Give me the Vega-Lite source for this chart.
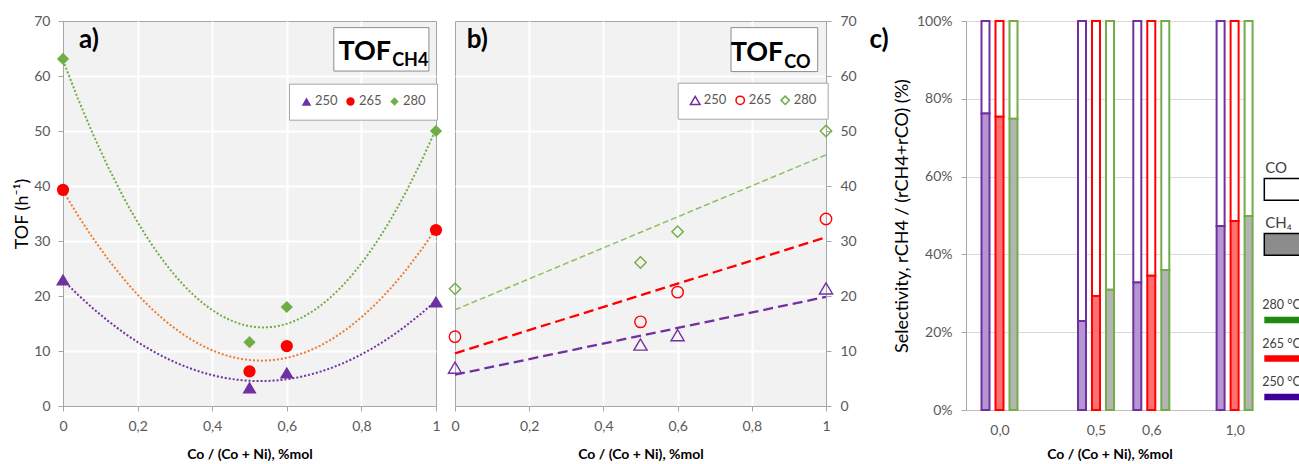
{
  "$schema": "https://vega.github.io/schema/vega-lite/v6.json",
  "padding": {"left": 13, "top": 13, "right": 0, "bottom": 0},
  "background": "white",
  "datasets": {
    "tof": [
      {"ratio": 0, "temp": "250", "tofCH4": 23.0, "tofCO": 7.0},
      {"ratio": 0.5, "temp": "250", "tofCH4": 3.4, "tofCO": 11.2},
      {"ratio": 0.6, "temp": "250", "tofCH4": 6.1, "tofCO": 12.9},
      {"ratio": 1, "temp": "250", "tofCH4": 19.0, "tofCO": 21.4},
      {"ratio": 0, "temp": "265", "tofCH4": 39.3, "tofCO": 12.6},
      {"ratio": 0.5, "temp": "265", "tofCH4": 6.3, "tofCO": 15.3},
      {"ratio": 0.6, "temp": "265", "tofCH4": 10.9, "tofCO": 20.7},
      {"ratio": 1, "temp": "265", "tofCH4": 32.0, "tofCO": 34.0},
      {"ratio": 0, "temp": "280", "tofCH4": 63.1, "tofCO": 21.3},
      {"ratio": 0.5, "temp": "280", "tofCH4": 11.6, "tofCO": 26.1},
      {"ratio": 0.6, "temp": "280", "tofCH4": 18.0, "tofCO": 31.7},
      {"ratio": 1, "temp": "280", "tofCH4": 50.0, "tofCO": 50.0}
    ],
    "sel": [
      {"ratio": 0, "temp": "250", "sel": 0.762},
      {"ratio": 0, "temp": "265", "sel": 0.754},
      {"ratio": 0, "temp": "280", "sel": 0.749},
      {"ratio": 0.5, "temp": "250", "sel": 0.229},
      {"ratio": 0.5, "temp": "265", "sel": 0.293},
      {"ratio": 0.5, "temp": "280", "sel": 0.309},
      {"ratio": 0.6, "temp": "250", "sel": 0.328},
      {"ratio": 0.6, "temp": "265", "sel": 0.345},
      {"ratio": 0.6, "temp": "280", "sel": 0.360},
      {"ratio": 1, "temp": "250", "sel": 0.473},
      {"ratio": 1, "temp": "265", "sel": 0.486},
      {"ratio": 1, "temp": "280", "sel": 0.499}
    ]
  },
  "spacing": 12,
  "resolve": {
    "scale": {"color": "independent", "shape": "independent", "fill": "independent"},
    "legend": {"color": "independent", "shape": "independent", "fill": "independent"}
  },
  "hconcat": [
    {
      "spacing": 19,
      "bounds": "flush",
      "resolve": {
        "scale": {"color": "independent", "shape": "independent"},
        "legend": {"color": "independent", "shape": "independent"}
      },
      "hconcat": [
        {
          "width": 373,
          "height": 385,
          "view": {"fill": "#f2f2f2", "stroke": "#a6a6a6"},
          "layer": [
            {
              "data": {"name": "tof"},
              "encoding": {
                "x": {
                  "field": "ratio", "type": "quantitative",
                  "scale": {"domain": [0, 1], "nice": false},
                  "axis": {
                    "title": "Co / (Co + Ni), %mol",
                    "values": [0, 0.2, 0.4, 0.6, 0.8, 1],
                    "labelExpr": "replace(format(datum.value, '~g'), '.', ',')",
                    "grid": true, "gridColor": "white", "gridWidth": 2,
                    "gridOpacity": {"condition": {"test": "datum.value <= 0 || datum.value >= 1", "value": 0}, "value": 1},
                    "labelPadding": 8, "titleFontSize": 14, "titleFontWeight": "bold", "titlePadding": 14
                  }
                },
                "y": {
                  "field": "tofCH4", "type": "quantitative",
                  "scale": {"domain": [0, 70], "nice": false},
                  "axis": {
                    "title": "TOF (h⁻¹)",
                    "values": [0, 10, 20, 30, 40, 50, 60, 70],
                    "grid": true, "gridColor": "white", "gridWidth": 2,
                    "gridOpacity": {"condition": {"test": "datum.value <= 0 || datum.value >= 70", "value": 0}, "value": 1},
                    "labelPadding": 8, "titleFontSize": 18, "titlePadding": 2
                  }
                }
              },
              "layer": [
                {
                  "transform": [{"filter": "datum.temp == '250'"}, {"regression": "tofCH4", "on": "ratio", "method": "poly", "order": 2, "extent": [0, 1]}],
                  "mark": {"type": "line", "stroke": "#7030a0", "strokeDash": [2, 2], "strokeWidth": 2}
                },
                {
                  "transform": [{"filter": "datum.temp == '265'"}, {"regression": "tofCH4", "on": "ratio", "method": "poly", "order": 2, "extent": [0, 1]}],
                  "mark": {"type": "line", "stroke": "#ed7d31", "strokeDash": [2, 2], "strokeWidth": 2}
                },
                {
                  "transform": [{"filter": "datum.temp == '280'"}, {"regression": "tofCH4", "on": "ratio", "method": "poly", "order": 2, "extent": [0, 1]}],
                  "mark": {"type": "line", "stroke": "#70ad47", "strokeDash": [2, 2], "strokeWidth": 2}
                },
                {
                  "mark": {"type": "point", "filled": true, "opacity": 1, "size": 150},
                  "encoding": {
                    "color": {
                      "field": "temp", "type": "nominal",
                      "scale": {"domain": ["250", "265", "280"], "range": ["#7030a0", "#ff0000", "#70ad47"]},
                      "legend": {"orient": "none", "legendX": 226, "legendY": 62.7, "direction": "horizontal", "title": null, "fillColor": "white", "strokeColor": "#a6a6a6", "padding": 11, "columnPadding": 6, "labelOffset": 2, "labelFontSize": 13, "labelColor": "#595959", "symbolSize": 70}
                    },
                    "shape": {
                      "field": "temp", "type": "nominal",
                      "scale": {"domain": ["250", "265", "280"], "range": ["M0,-0.95L1.15,1L-1.15,1Z", "circle", "diamond"]},
                      "legend": {"orient": "none", "legendX": 226, "legendY": 62.7, "direction": "horizontal", "title": null, "fillColor": "white", "strokeColor": "#a6a6a6", "padding": 11, "columnPadding": 6, "labelOffset": 2, "labelFontSize": 13, "labelColor": "#595959", "symbolSize": 70}
                    }
                  }
                }
              ]
            },
            {
              "data": {"values": [{}]},
              "mark": {"type": "text", "text": "a)", "fontSize": 26, "fontWeight": "bold", "align": "left", "baseline": "middle", "color": "black"},
              "encoding": {"x": {"datum": 0.043, "type": "quantitative"}, "y": {"datum": 66.5, "type": "quantitative"}}
            },
            {
              "data": {"values": [{}]},
              "mark": {"type": "rect", "fill": "white", "stroke": "#8c8c8c", "strokeWidth": 1},
              "encoding": {"x": {"datum": 0.726, "type": "quantitative"}, "x2": {"datum": 0.981}, "y": {"datum": 68.8, "type": "quantitative"}, "y2": {"datum": 60.9}}
            },
            {
              "data": {"values": [{}]},
              "mark": {"type": "text", "text": "TOF", "fontSize": 27, "fontWeight": "bold", "align": "right", "baseline": "alphabetic", "color": "black"},
              "encoding": {"x": {"datum": 0.8797, "type": "quantitative"}, "y": {"datum": 62.85, "type": "quantitative"}}
            },
            {
              "data": {"values": [{}]},
              "mark": {"type": "text", "text": "CH4", "fontSize": 18, "fontWeight": "bold", "align": "left", "baseline": "alphabetic", "color": "black", "dx": 1},
              "encoding": {"x": {"datum": 0.8797, "type": "quantitative"}, "y": {"datum": 61.8, "type": "quantitative"}}
            }
          ]
        },
        {
          "width": 371,
          "height": 385,
          "view": {"fill": "#f2f2f2", "stroke": "#a6a6a6"},
          "layer": [
            {
              "data": {"name": "tof"},
              "encoding": {
                "x": {
                  "field": "ratio", "type": "quantitative",
                  "scale": {"domain": [0, 1], "nice": false},
                  "axis": {
                    "title": "Co / (Co + Ni), %mol",
                    "values": [0, 0.2, 0.4, 0.6, 0.8, 1],
                    "labelExpr": "replace(format(datum.value, '~g'), '.', ',')",
                    "grid": true, "gridColor": "white", "gridWidth": 2,
                    "gridOpacity": {"condition": {"test": "datum.value <= 0 || datum.value >= 1", "value": 0}, "value": 1},
                    "labelPadding": 8, "titleFontSize": 14, "titleFontWeight": "bold", "titlePadding": 14
                  }
                },
                "y": {
                  "field": "tofCO", "type": "quantitative",
                  "scale": {"domain": [0, 70], "nice": false},
                  "axis": {
                    "orient": "right", "title": null,
                    "values": [0, 10, 20, 30, 40, 50, 60, 70],
                    "grid": true, "gridColor": "white", "gridWidth": 2,
                    "gridOpacity": {"condition": {"test": "datum.value <= 0 || datum.value >= 70", "value": 0}, "value": 1},
                    "labelPadding": 9
                  }
                }
              },
              "layer": [
                {
                  "transform": [{"filter": "datum.temp == '250'"}, {"regression": "tofCO", "on": "ratio", "method": "linear", "extent": [0, 1]}],
                  "mark": {"type": "line", "stroke": "#7030a0", "strokeDash": [10, 5], "strokeWidth": 2.3}
                },
                {
                  "transform": [{"filter": "datum.temp == '265'"}, {"regression": "tofCO", "on": "ratio", "method": "linear", "extent": [0, 1]}],
                  "mark": {"type": "line", "stroke": "#ff0000", "strokeDash": [10, 5], "strokeWidth": 2.3}
                },
                {
                  "transform": [{"filter": "datum.temp == '280'"}, {"regression": "tofCO", "on": "ratio", "method": "linear", "extent": [0, 1]}],
                  "mark": {"type": "line", "stroke": "#8cc063", "strokeDash": [6, 3], "strokeWidth": 1.5}
                },
                {
                  "mark": {"type": "point", "filled": false, "strokeWidth": 1.4, "opacity": 1, "size": 130},
                  "encoding": {
                    "color": {
                      "field": "temp", "type": "nominal",
                      "scale": {"domain": ["250", "265", "280"], "range": ["#7030a0", "#ff0000", "#70ad47"]},
                      "legend": {"orient": "none", "legendX": 222.7, "legendY": 61.7, "direction": "horizontal", "title": null, "fillColor": "white", "strokeColor": "#a6a6a6", "padding": 11, "columnPadding": 6, "labelOffset": 2, "labelFontSize": 13, "labelColor": "#595959", "symbolSize": 70}
                    },
                    "shape": {
                      "field": "temp", "type": "nominal",
                      "scale": {"domain": ["250", "265", "280"], "range": ["M0,-0.95L1.15,1L-1.15,1Z", "circle", "diamond"]},
                      "legend": {"orient": "none", "legendX": 222.7, "legendY": 61.7, "direction": "horizontal", "title": null, "fillColor": "white", "strokeColor": "#a6a6a6", "padding": 11, "columnPadding": 6, "labelOffset": 2, "labelFontSize": 13, "labelColor": "#595959", "symbolSize": 70}
                    }
                  }
                }
              ]
            },
            {
              "data": {"values": [{}]},
              "mark": {"type": "text", "text": "b)", "fontSize": 26, "fontWeight": "bold", "align": "left", "baseline": "middle", "color": "black"},
              "encoding": {"x": {"datum": 0.0315, "type": "quantitative"}, "y": {"datum": 66.5, "type": "quantitative"}}
            },
            {
              "data": {"values": [{}]},
              "mark": {"type": "rect", "fill": "white", "stroke": "#8c8c8c", "strokeWidth": 1},
              "encoding": {"x": {"datum": 0.744, "type": "quantitative"}, "x2": {"datum": 0.9776}, "y": {"datum": 68.8, "type": "quantitative"}, "y2": {"datum": 60.8}}
            },
            {
              "data": {"values": [{}]},
              "mark": {"type": "text", "text": "TOF", "fontSize": 27, "fontWeight": "bold", "align": "right", "baseline": "alphabetic", "color": "black"},
              "encoding": {"x": {"datum": 0.885, "type": "quantitative"}, "y": {"datum": 62.7, "type": "quantitative"}}
            },
            {
              "data": {"values": [{}]},
              "mark": {"type": "text", "text": "CO", "fontSize": 18, "fontWeight": "bold", "align": "left", "baseline": "alphabetic", "color": "black", "dx": 1},
              "encoding": {"x": {"datum": 0.885, "type": "quantitative"}, "y": {"datum": 61.5, "type": "quantitative"}}
            }
          ]
        }
      ]
    },
    {
      "width": 287,
      "height": 389,
      "layer": [
        {
          "data": {"name": "sel"},
          "encoding": {
            "x": {
              "field": "ratio", "type": "quantitative",
              "scale": {"domain": [-0.17, 0, 0.5, 0.6, 1, 1.1], "range": [0, 33.5, 130, 185.3, 268.6, 287], "nice": false, "zero": false},
              "axis": {
                "title": "Co / (Co + Ni), %mol",
                "values": [0, 0.5, 0.6, 1],
                "labelExpr": "replace(format(datum.value, '.1f'), '.', ',')",
                "ticks": false, "grid": false, "domainColor": "#bfbfbf",
                "labelPadding": 13, "titleFontSize": 14, "titleFontWeight": "bold", "titlePadding": 10
              }
            },
            "y": {
              "field": "sel", "type": "quantitative",
              "scale": {"domain": [0, 1], "nice": false},
              "axis": {
                "title": "Selectivity, rCH4 / (rCH4+rCO) (%)",
                "values": [0, 0.05, 0.1, 0.15, 0.2, 0.25, 0.3, 0.35, 0.4, 0.45, 0.5, 0.55, 0.6, 0.65, 0.7, 0.75, 0.8, 0.85, 0.9, 0.95, 1],
                "labelExpr": "round(datum.value * 20) % 4 == 0 ? format(datum.value, '.0%') : ''",
                "grid": true, "gridColor": "#d9d9d9",
                "gridOpacity": {"condition": {"test": "round(datum.value * 20) % 4 == 0 && datum.value > 0", "value": 1}, "value": 0},
                "domainColor": "#a6a6a6", "tickSize": 5,
                "labelPadding": 9, "titleFontSize": 18, "titlePadding": 5
              }
            }
          },
          "layer": [
            {
              "transform": [{"filter": "datum.temp == '250'"}],
              "layer": [
                {"mark": {"type": "bar", "width": 8, "xOffset": -14, "fill": "white", "stroke": "#7030a0", "strokeWidth": 2}, "encoding": {"y2": {"datum": 1}}},
                {"mark": {"type": "bar", "width": 8, "xOffset": -14, "fill": "#b497d2", "stroke": "#7030a0", "strokeWidth": 2}, "encoding": {"y2": {"datum": 0}}}
              ]
            },
            {
              "transform": [{"filter": "datum.temp == '265'"}],
              "layer": [
                {"mark": {"type": "bar", "width": 8, "xOffset": 0, "fill": "white", "stroke": "#ff0000", "strokeWidth": 2}, "encoding": {"y2": {"datum": 1}}},
                {"mark": {"type": "bar", "width": 8, "xOffset": 0, "fill": "#ff7070", "stroke": "#ff0000", "strokeWidth": 2}, "encoding": {"y2": {"datum": 0}}}
              ]
            },
            {
              "transform": [{"filter": "datum.temp == '280'"}],
              "layer": [
                {"mark": {"type": "bar", "width": 8, "xOffset": 14, "fill": "white", "stroke": "#70ad47", "strokeWidth": 2}, "encoding": {"y2": {"datum": 1}}},
                {"mark": {"type": "bar", "width": 8, "xOffset": 14, "fill": "#b4b4b4", "stroke": "#70ad47", "strokeWidth": 2}, "encoding": {"y2": {"datum": 0}}}
              ]
            },
            {
              "transform": [{"filter": "false"}],
              "mark": {"type": "bar", "stroke": "black", "strokeWidth": 1.5},
              "encoding": {
                "fill": {
                  "field": "part", "type": "nominal",
                  "scale": {"domain": ["CO", "CH4"], "range": ["white", "#8c8c8c"]},
                  "legend": {"orient": "none", "legendX": 297.3, "legendY": 127.5, "title": null, "direction": "vertical", "symbolType": "M-1,0.61H1V1.82H-1Z", "symbolSize": 1296, "symbolStrokeColor": "black", "symbolStrokeWidth": 1.5, "labelOffset": -36, "labelFontSize": 15, "labelColor": "#404040", "rowPadding": -1, "padding": 0, "labelExpr": "datum.label == 'CH4' ? 'CH₄' : datum.label"}
                }
              }
            },
            {
              "transform": [{"filter": "false"}],
              "mark": {"type": "bar"},
              "encoding": {
                "color": {
                  "field": "temp", "type": "nominal",
                  "scale": {"domain": ["280", "265", "250"], "range": ["#1e8b0c", "#ff0000", "#400098"]},
                  "legend": {"orient": "none", "legendX": 297.3, "legendY": 265, "title": null, "direction": "vertical", "symbolType": "M-1,0.65H1V1.02H-1Z", "symbolSize": 1296, "labelOffset": -39, "labelFontSize": 12.5, "labelColor": "#404040", "rowPadding": 0.5, "padding": 0, "labelExpr": "datum.label + ' °C'"}
                }
              }
            }
          ]
        },
        {
          "data": {"values": [{}]},
          "mark": {"type": "text", "text": "c)", "fontSize": 26, "fontWeight": "bold", "align": "left", "baseline": "middle", "color": "black", "dx": -130},
          "encoding": {"x": {"datum": 0, "type": "quantitative"}, "y": {"datum": 0.95, "type": "quantitative"}}
        }
      ]
    }
  ],
  "config": {
    "font": "Lato",
    "view": {"stroke": null},
    "axis": {
      "labelFontSize": 14, "labelColor": "#595959", "titleColor": "#000000",
      "domainColor": "#a6a6a6", "tickColor": "#a6a6a6", "tickSize": 5,
      "labelFlush": false, "labelOverlap": false, "titleFontWeight": "normal"
    }
  }
}
